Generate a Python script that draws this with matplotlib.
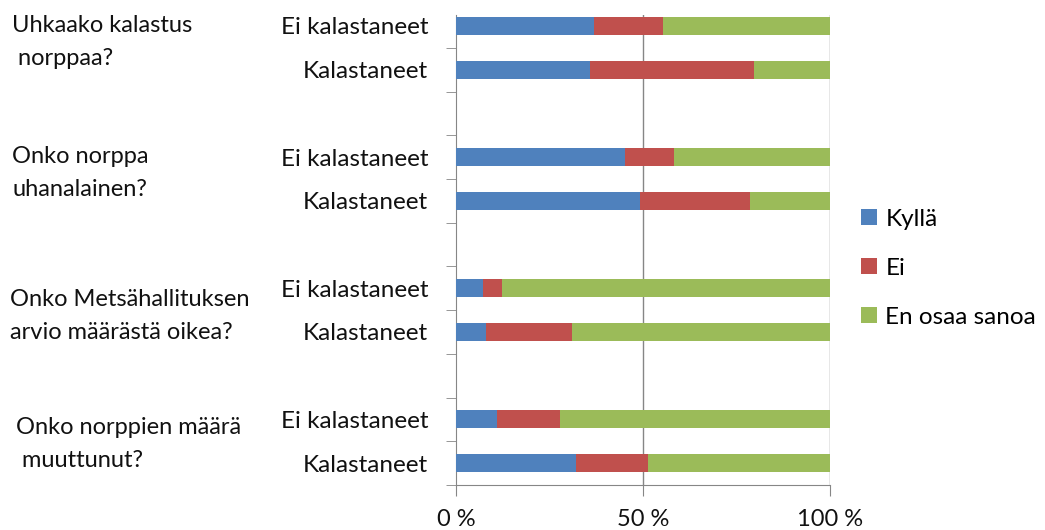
import matplotlib.pyplot as plt
from matplotlib.patches import Patch

plt.rcParams['font.family'] = ['Lato', 'DejaVu Sans']

# Data (percent), rows listed top to bottom
questions = ["Uhkaako kalastus\n norppaa?",
             "Onko norppa\nuhanalainen?",
             "Onko Metsähallituksen\narvio määrästä oikea?",
             "Onko norppien määrä\n muuttunut?"]
groups = ["Ei kalastaneet", "Kalastaneet"]
series = ["Kyllä", "Ei", "En osaa sanoa"]
kylla = [36.8, 35.7, 45.2, 49.1, 7.2, 8.1, 11.0, 32.1]
ei = [18.6, 43.9, 13.0, 29.5, 5.0, 22.9, 16.7, 19.2]
en_osaa = [100 - k - e for k, e in zip(kylla, ei)]
colors = ['#4F81BD', '#C0504D', '#9BBB59']

# y positions: two rows per question, one blank slot between questions
ypos = []
ylabels = []
for g in range(len(questions)):
    for r in range(len(groups)):
        ypos.append(10 - 3 * g - r)
        ylabels.append(groups[r])

fig = plt.figure(figsize=(10.45, 5.30), dpi=100)
ax = fig.add_axes([0.4364, 0.085, 0.3579, 0.8867])

left = [0] * len(ypos)
for vals, col, name in zip([kylla, ei, en_osaa], colors, series):
    ax.barh(ypos, vals, left=left, height=0.41, color=col, label=name, zorder=3)
    left = [a + b for a, b in zip(left, vals)]

ax.set_xlim(0, 100)
ax.set_ylim(-0.5, 10.25)
ax.set_xticks([0, 50, 100])
ax.set_xticklabels(['0 %', '50 %', '100 %'], fontsize=17, color='#111111')
ax.tick_params(axis='x', length=8, color='#868686', pad=9)
ax.set_yticks(ypos)
ax.set_yticklabels(ylabels, fontsize=17.5, color='#111111')
ax.tick_params(axis='y', which='major', length=0, pad=20)
ax.set_yticks([k + 0.5 for k in range(-1, 10)], minor=True)
ax.tick_params(axis='y', which='minor', length=7, color='#868686')

for x in [50, 100]:
    ax.axvline(x, color='#868686', lw=1, zorder=1)
for s in ['top', 'right']:
    ax.spines[s].set_visible(False)
for s in ['left', 'bottom']:
    ax.spines[s].set_color('#868686')

# question labels
qy = [42, 173, 316, 444]
qx = [12, 12, 10, 16]
for q, x, y in zip(questions, qx, qy):
    fig.text(x / 1045, 1 - y / 530, q, fontsize=17, color='#111111',
             va='center', ha='left', linespacing=1.72)

handles = [Patch(facecolor=c) for c in colors]
fig.legend(handles, series, loc='center left', bbox_to_anchor=(0.824, 0.494),
           frameon=False, fontsize=17.5, handlelength=0.65, handleheight=0.65,
           handletextpad=0.35, labelspacing=1.15, borderpad=0, borderaxespad=0)

fig.savefig('out.png')
